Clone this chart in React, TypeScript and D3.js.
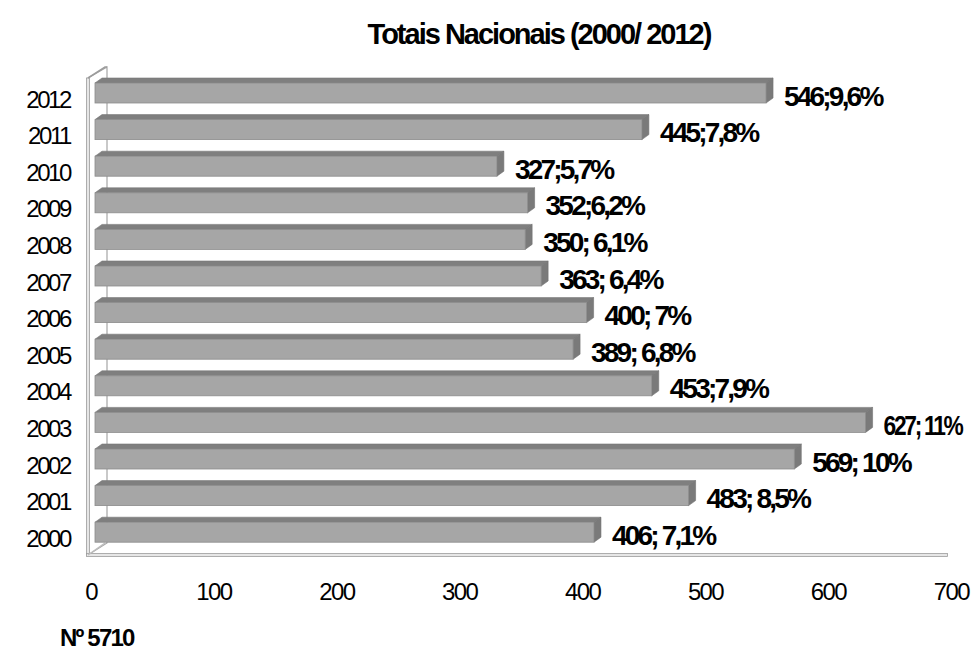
import React, { useLayoutEffect, useRef } from "react";
import * as d3 from "d3";

const years = ["2012", "2011", "2010", "2009", "2008", "2007", "2006", "2005", "2004", "2003", "2002", "2001", "2000"];
const values = [546, 445, 327, 352, 350, 363, 400, 389, 453, 627, 569, 483, 406];
const labels = ["546;9,6%", "445;7,8%", "327;5,7%", "352;6,2%", "350; 6,1%", "363; 6,4%", "400; 7%", "389; 6,8%", "453;7,9%", "627; 11%", "569; 10%", "483; 8,5%", "406; 7,1%"];
const xTicks = [0, 100, 200, 300, 400, 500, 600, 700];
const title = "Totais Nacionais (2000/ 2012)";
const footer = "Nº 5710";

const W = 974;
const H = 651;
const FONT = "'Liberation Sans', Arial, sans-serif";
const RIGHT_LIMIT = 964;

export default function App() {
  const x = d3.scaleLinear().domain([0, 700]).range([95, 95 + 700 * 1.229]);
  const y = d3.scalePoint<string>().domain(years).range([93, 532.2]);
  const half = 10;
  const dx = 7;
  const dy = 5;
  const labelGap = 18;

  const wallFrontX = 88;
  const wallBackX = 107;
  const wallTopFront = 78;
  const wallTopBack = 67;
  const floorFront = 555;
  const floorBack = 543;

  const labelRefs = useRef<(SVGTextElement | null)[]>([]);

  useLayoutEffect(() => {
    labelRefs.current.forEach((el, i) => {
      if (!el) return;
      const start = x(values[i]) + labelGap;
      const bb = el.getBBox();
      const right = bb.x + bb.width;
      if (right > RIGHT_LIMIT) {
        const k = (RIGHT_LIMIT - start) / (right - start);
        el.setAttribute("transform", `translate(${start},0) scale(${k},1) translate(${-start},0)`);
      }
    });
  }, []);

  return (
    <div style={{ position: "absolute", left: 0, top: 0 }}>
      <svg width={W} height={H} style={{ display: "block", background: "#fff" }}>
        <text x={539} y={44} textAnchor="middle" fontFamily={FONT} fontWeight="bold" fontSize={29} letterSpacing={-2} fill="#000">
          {title}
        </text>

        <polygon
          points={`${wallFrontX},${wallTopFront} ${wallBackX},${wallTopBack} ${wallBackX},${floorBack} ${wallFrontX},${floorFront}`}
          fill="#fff"
          stroke="#a6a6a6"
          strokeWidth={1.2}
        />
        <rect x={wallFrontX - 1.5} y={wallTopFront} width={3} height={floorFront - wallTopFront} fill="#e6e6e6" stroke="#9c9c9c" strokeWidth={0.8} />
        <polyline points={`${wallFrontX},${wallTopFront} ${wallBackX - 2},${wallTopBack} ${wallBackX},${wallTopBack}`} fill="none" stroke="#9c9c9c" strokeWidth={1.5} />
        <rect x={wallFrontX - 1.5} y={floorFront - 1.5} width={949 - wallFrontX} height={3} fill="#e6e6e6" stroke="#9c9c9c" strokeWidth={0.8} />
        <line x1={wallFrontX} y1={floorFront} x2={wallBackX - 2} y2={floorBack} stroke="#bdbdbd" strokeWidth={1.5} />

        {years.map((yr, i) => {
          const cy = y(yr) as number;
          const x0 = x(0);
          const x1 = x(values[i]);
          const yt = cy - half;
          const yb = cy + half;
          return (
            <g key={yr}>
              <polygon
                points={`${x0},${yt} ${x0 + dx},${yt - dy} ${x1 + dx},${yt - dy} ${x1},${yt}`}
                fill="#7f7f7f"
                stroke="#777"
                strokeWidth={0.6}
              />
              <polygon
                points={`${x1},${yt} ${x1 + dx},${yt - dy} ${x1 + dx},${yb - dy} ${x1},${yb}`}
                fill="#7a7a7a"
                stroke="#737373"
                strokeWidth={0.6}
              />
              <rect x={x0} y={yt} width={x1 - x0} height={yb - yt} fill="#a6a6a6" stroke="#8c8c8c" strokeWidth={0.8} />
              <text
                ref={(el) => {
                  labelRefs.current[i] = el;
                }}
                x={x1 + labelGap}
                y={cy + 3}
                dominantBaseline="central"
                fontFamily={FONT}
                fontWeight="bold"
                fontSize={28}
                letterSpacing={-2.8}
                fill="#000"
              >
                {labels[i]}
              </text>
              <text
                x={70}
                y={cy + 6}
                dominantBaseline="central"
                textAnchor="end"
                fontFamily={FONT}
                fontSize={24}
                letterSpacing={-2.4}
                fill="#000"
              >
                {yr}
              </text>
            </g>
          );
        })}

        {xTicks.map((t) => (
          <text
            key={t}
            x={x(t) - 4}
            y={591}
            dominantBaseline="central"
            textAnchor="middle"
            fontFamily={FONT}
            fontSize={24}
            letterSpacing={-1.6}
            fill="#000"
          >
            {t}
          </text>
        ))}

        <text x={60} y={646} fontFamily={FONT} fontWeight="bold" fontSize={24} letterSpacing={-1.8} fill="#000">
          {footer}
        </text>
      </svg>
    </div>
  );
}
